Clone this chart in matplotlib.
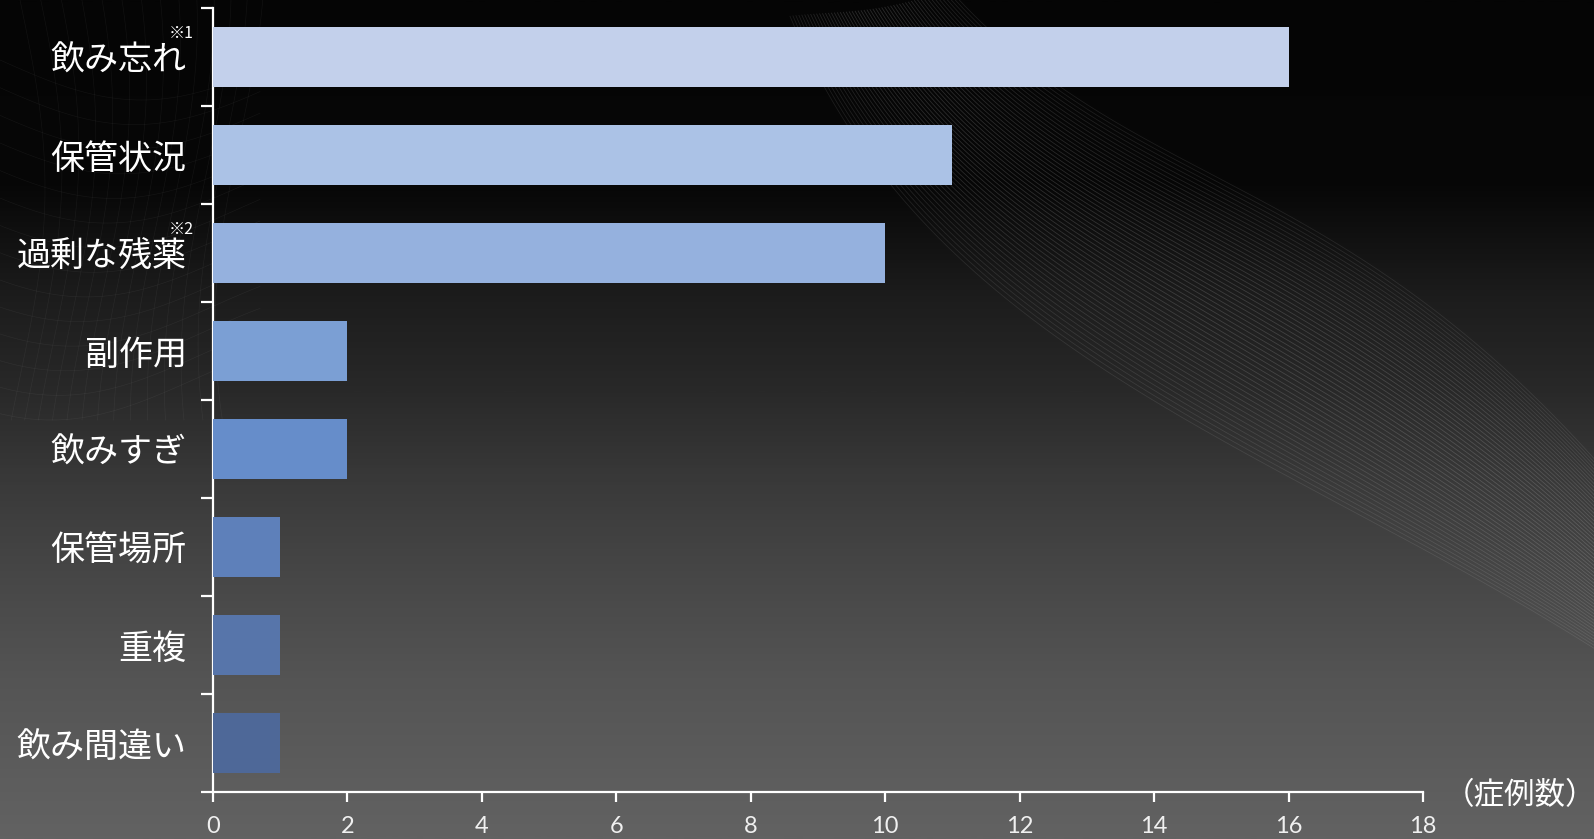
import matplotlib
matplotlib.use("Agg")
import matplotlib.pyplot as plt
import numpy as np
from matplotlib.colors import LinearSegmentedColormap

plt.rcParams['font.family'] = ['Noto Sans CJK JP', 'DejaVu Sans']

# --- data -------------------------------------------------------------
categories = ['飲み忘れ', '保管状況', '過剰な残薬', '副作用',
              '飲みすぎ', '保管場所', '重複', '飲み間違い']
counts = [16, 11, 10, 2, 2, 1, 1, 1]
notes = {0: '※1', 2: '※2'}
xticks = [0, 2, 4, 6, 8, 10, 12, 14, 16, 18]
unit_label = '（症例数）'

bar_colors = ['#C3D0EB', '#ABC2E6', '#95B1DE', '#7B9FD4',
              '#668DCA', '#5E80BA', '#5775AA', '#4E6898']

W, H = 1594, 839
fig = plt.figure(figsize=(W / 100, H / 100), dpi=100)

# dark backdrop: black at the top, fading to grey at the bottom
bg = fig.add_axes([0, 0, 1, 1], zorder=-2)
stops = [(0.0, '#050505'), (0.22, '#070707'), (0.35, '#1c1c1c'),
         (0.46, '#282828'), (0.58, '#3a3a3a'), (0.69, '#474747'),
         (0.81, '#545454'), (1.0, '#626262')]
cmap = LinearSegmentedColormap.from_list('bg', stops)
grad = np.linspace(0, 1, 400).reshape(-1, 1)
bg.imshow(grad, cmap=cmap, aspect='auto', extent=[0, W, H, 0])


def bezier(p, t):
    p = np.asarray(p, float)
    s = 1 - t
    return (s**3)[:, None] * p[0] + (3 * s**2 * t)[:, None] * p[1] \
        + (3 * s * t**2)[:, None] * p[2] + (t**3)[:, None] * p[3]


# faint ribbon of curves sweeping across the upper right
t = np.linspace(0, 1, 300)
upper = bezier([(950, -10), (1120, 170), (1330, 170), (1600, 470)], t)
lower = bezier([(790, 20), (930, 360), (1250, 420), (1600, 650)], t)
for k in np.linspace(0, 1, 55):
    pts = upper + (lower - upper) * k
    wob = 5 * np.sin(5 * t + 4 * k)
    bg.plot(pts[:, 0], pts[:, 1] + wob, color='white',
            alpha=0.09 + 0.06 * np.sin(np.pi * k), lw=0.6)

# loose mesh in the upper left corner
for k in np.linspace(0, 1, 14):
    xs = np.linspace(0, 260, 100)
    bg.plot(xs, 60 + 320 * k + 40 * np.sin(xs / 90 + k), color='white',
            alpha=0.05, lw=0.5)
    ys = np.linspace(0, 420, 100)
    bg.plot(20 + 220 * k + 25 * np.sin(ys / 120 + 2 * k), ys, color='white',
            alpha=0.05, lw=0.5)

bg.set_xlim(0, W)
bg.set_ylim(H, 0)
bg.axis('off')

# --- bar chart --------------------------------------------------------
ax = fig.add_axes([213 / W, 1 - 792 / H, (1423 - 213) / W, (792 - 8) / H])
ax.set_facecolor('none')

ypos = np.arange(len(categories))
ax.barh(ypos, counts, height=0.62, color=bar_colors, zorder=3)

ax.set_ylim(len(categories) - 0.5, -0.5)
ax.set_xlim(0, 18)

# category boundaries get tick marks, labels sit between them
ax.set_yticks(np.arange(len(categories) + 1) - 0.5)
ax.set_yticklabels([])
ax.set_yticks(ypos, minor=True)
ax.set_yticklabels(categories, minor=True, fontsize=24.5, color='white')
ax.tick_params(axis='y', which='minor', length=0, pad=19)
ax.tick_params(axis='y', which='major', length=9, width=1.6, color='white',
               direction='out')

ax.set_xticks(xticks)
ax.set_xticklabels([str(v) for v in xticks], fontsize=17, color='#f0f0f0',
                   family=['Lato', 'DejaVu Sans'])
ax.tick_params(axis='x', length=7, width=1.6, color='white', direction='out',
               pad=10)

for side in ['top', 'right']:
    ax.spines[side].set_visible(False)
for side in ['left', 'bottom']:
    ax.spines[side].set_color('white')
    ax.spines[side].set_linewidth(1.6)

for i, note in notes.items():
    ax.annotate(note, xy=(0, ypos[i]), xycoords=('axes fraction', 'data'),
                xytext=(-14, 17), textcoords='offset points',
                ha='right', va='center', fontsize=11.5, color='white')

fig.text(1444 / W, 1 - 796 / H, unit_label, fontsize=22, color='white',
         ha='left', va='center')

fig.savefig('out.png', dpi=100)
